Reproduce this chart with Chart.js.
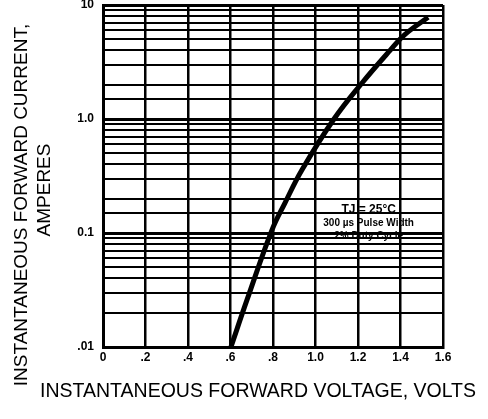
<!DOCTYPE html>
<html>
<head>
<meta charset="utf-8">
<script src="https://cdn.jsdelivr.net/npm/chart.js@4/dist/chart.umd.min.js"></script>
<style>
  html, body { margin: 0; padding: 0; background: #fff; }
  #wrap { width: 488px; height: 419px; }
</style>
</head>
<body>
<div id="wrap"><canvas id="ivChart" width="488" height="419"></canvas></div>
<script>
// forward voltage (V) vs forward current (A)
const voltage = [0.602, 0.678, 0.795, 0.856, 0.936, 1.087, 1.219, 1.351, 1.42, 1.53];
const current = [0.01, 0.026, 0.106, 0.183, 0.357, 1.0, 2.07, 4.0, 5.5, 7.8];

const xTickLabels = ['0', '.2', '.4', '.6', '.8', '1.0', '1.2', '1.4', '1.6'];
const yTickValues = [0.01, 0.1, 1, 10];
const yTickLabels = ['.01', '0.1', '1.0', '10'];

const xTitle = 'INSTANTANEOUS FORWARD VOLTAGE, VOLTS';
const yTitle = ['INSTANTANEOUS FORWARD CURRENT,', 'AMPERES'];
const noteLines = ['TJ = 25°C', '300 µs Pulse Width', '2% Duty Cycle'];

const fam = "'Liberation Sans', Arial, sans-serif";
const tickFont = { family: fam, size: 12, weight: 'bold' };

// axis titles and the test-condition note
const textPlugin = {
  id: 'texts',
  afterDraw(chart) {
    const ctx = chart.ctx;
    const area = chart.chartArea;
    ctx.save();
    ctx.fillStyle = '#000';
    ctx.textAlign = 'center';
    ctx.textBaseline = 'middle';

    ctx.font = '19.5px ' + fam;
    ctx.fillText(xTitle, 258, area.bottom + 45);

    ctx.font = '19px ' + fam;
    ctx.save();
    ctx.translate(22, 205);
    ctx.rotate(-Math.PI / 2);
    ctx.fillText(yTitle[0], 0, 0);
    ctx.restore();
    ctx.save();
    ctx.translate(45, 190);
    ctx.rotate(-Math.PI / 2);
    ctx.fillText(yTitle[1], 0, 0);
    ctx.restore();

    const x = chart.scales.x.getPixelForValue(1.25);
    const y = chart.scales.y.getPixelForValue(0.16);
    ctx.font = 'bold 12px ' + fam;
    ctx.fillText(noteLines[0], x, y);
    ctx.font = 'bold 10px ' + fam;
    ctx.fillText(noteLines[1], x, y + 14);
    ctx.fillText(noteLines[2], x, y + 27);
    ctx.restore();
  }
};

const ctx = document.getElementById('ivChart').getContext('2d');
new Chart(ctx, {
  type: 'line',
  data: {
    datasets: [{
      data: voltage.map((v, i) => ({ x: v, y: current[i] })),
      borderColor: '#000',
      borderWidth: 5,
      pointRadius: 0,
      tension: 0.4,
      fill: false
    }]
  },
  options: {
    responsive: false,
    animation: false,
    layout: { padding: { top: 5, right: 45, left: 0, bottom: 0 } },
    plugins: { legend: { display: false }, tooltip: { enabled: false } },
    scales: {
      x: {
        type: 'linear',
        min: 0,
        max: 1.6,
        afterFit(scale) {
          scale.height = 72;
          scale.paddingLeft = 0;
          scale.paddingRight = 0;
        },
        afterBuildTicks(scale) {
          scale.ticks = xTickLabels.map((_, i) => ({ value: i * 0.2 }));
        },
        ticks: {
          color: '#000',
          font: tickFont,
          padding: 3,
          maxRotation: 0,
          autoSkip: false,
          callback: (v, i) => xTickLabels[i]
        },
        grid: { color: '#000', lineWidth: 2.5, drawTicks: false },
        border: { color: '#000', width: 3 }
      },
      y: {
        type: 'logarithmic',
        min: 0.01,
        max: 10,
        afterFit(scale) {
          scale.width = 103;
          scale.paddingTop = 0;
          scale.paddingBottom = 0;
        },
        ticks: {
          color: '#000',
          font: tickFont,
          padding: 9,
          autoSkip: false,
          callback(v) {
            const k = yTickValues.findIndex(t => Math.abs(t - v) < v * 1e-6);
            return k >= 0 ? yTickLabels[k] : '';
          }
        },
        grid: {
          color: '#000',
          drawTicks: false,
          lineWidth: c => (c.tick && c.tick.major ? 3 : 2)
        },
        border: { color: '#000', width: 3 }
      }
    }
  },
  plugins: [textPlugin]
});
</script>
</body>
</html>
